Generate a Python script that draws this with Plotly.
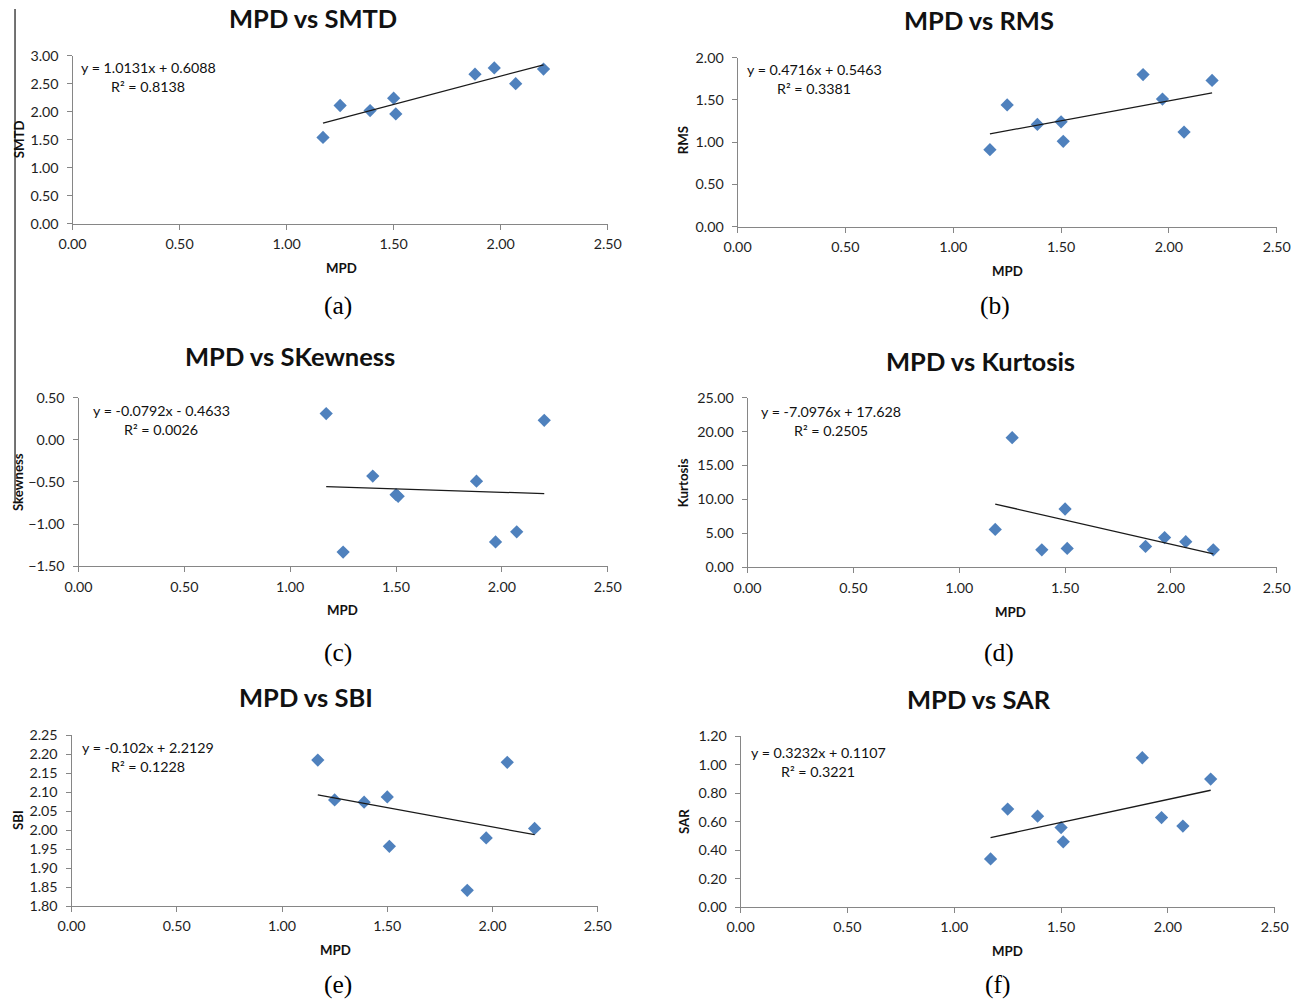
import plotly.graph_objects as go

W, H = 1308, 1004

# ---- data -------------------------------------------------------------
mpd = [1.17, 1.25, 1.39, 1.50, 1.51, 1.88, 1.97, 2.07, 2.20]
smtd = [1.54, 2.11, 2.02, 2.24, 1.96, 2.67, 2.78, 2.50, 2.76]
rms = [0.91, 1.44, 1.21, 1.24, 1.01, 1.80, 1.51, 1.12, 1.73]
skewness = [0.31, -1.33, -0.43, -0.65, -0.67, -0.49, -1.21, -1.09, 0.23]
kurtosis = [5.6, 19.1, 2.6, 8.6, 2.8, 3.1, 4.4, 3.8, 2.6]
sbi = [2.185, 2.080, 2.074, 2.088, 1.958, 1.842, 1.980, 2.179, 2.005]
sar = [0.34, 0.69, 0.64, 0.56, 0.46, 1.05, 0.63, 0.57, 0.90]

titles = ["MPD vs SMTD", "MPD vs RMS", "MPD vs SKewness",
          "MPD vs Kurtosis", "MPD vs SBI", "MPD vs SAR"]
y_titles = ["SMTD", "RMS", "Skewness", "Kurtosis", "SBI", "SAR"]
sub_labels = ["(a)", "(b)", "(c)", "(d)", "(e)", "(f)"]
slopes = [1.0131, 0.4716, -0.0792, -7.0976, -0.102, 0.3232]
intercepts = [0.6088, 0.5463, -0.4633, 17.628, 2.2129, 0.1107]
r_squared = [0.8138, 0.3381, 0.0026, 0.2505, 0.1228, 0.3221]
y_ranges = [(0, 3), (0, 2), (-1.5, 0.5), (0, 25), (1.8, 2.25), (0, 1.2)]
y_dticks = [0.5, 0.5, 0.5, 5, 0.05, 0.2]
x_range = (0, 2.5)
x_dtick = 0.5
series = [smtd, rms, skewness, kurtosis, sbi, sar]

# ---- layout geometry (screen pixels) ------------------------------------
# plot box: left, right, top, bottom
boxes = [
    (71, 607, 56, 224),
    (737, 1277, 58, 227),
    (77, 607, 398, 567),
    (747, 1277, 398, 568),
    (70, 597, 736, 907),
    (740, 1275, 737, 908),
]
title_pos = [(312, 18), (979, 20), (289, 356), (980, 361), (305, 698), (979, 700)]
xtitle_pos = [(340, 268), (1007, 271), (341, 611), (1010, 613), (334, 951), (1007, 952)]
ytitle_pos = [(17, 140), (682, 141), (17, 483), (683, 483), (17, 821), (684, 822)]
eq_pos = [(147, 68), (814, 70), (160, 411), (831, 412), (147, 748), (818, 753)]
sub_pos = [(337, 306), (995, 306), (337, 653), (999, 653), (337, 985), (997, 985)]

# screen -> figure mapping of the viewer (slight zoom-out plus offset)
SX, CX = 0.980, 12.4
SY, CY = 0.9835, 9.3
FS = 1 / SX  # font / marker enlargement to compensate

FONT = "Lato"
AXIS_GREY = "#868686"
MARKER_BLUE = "#4F81BD"


def px(x):
    return max(0.0, (x - CX) / SX) / W


def py(y):
    return 1 - max(0.0, (y - CY) / SY) / H


fig = go.Figure()
annotations = []
layout_axes = {}

for i in range(6):
    n = "" if i == 0 else str(i + 1)
    xa, ya = "x" + n, "y" + n
    left, right, top, bottom = boxes[i]

    tick_font = dict(family=FONT, size=14 * FS, color="#1e1e1e")
    layout_axes["xaxis" + n] = dict(
        domain=[px(left), px(right)], anchor=ya, range=list(x_range),
        dtick=x_dtick, tick0=0, tickformat=".2f",
        showline=True, linecolor=AXIS_GREY, linewidth=1,
        ticks="outside", ticklen=5, tickcolor=AXIS_GREY,
        ticklabelstandoff=2,
        showgrid=False, zeroline=False, tickfont=tick_font,
    )
    layout_axes["yaxis" + n] = dict(
        domain=[py(bottom), py(top)], anchor=xa, range=list(y_ranges[i]),
        dtick=y_dticks[i], tick0=y_ranges[i][0], tickformat=".2f",
        showline=True, linecolor=AXIS_GREY, linewidth=1,
        ticks="outside", ticklen=5, tickcolor=AXIS_GREY,
        ticklabelstandoff=5,
        showgrid=False, zeroline=False, tickfont=tick_font,
    )

    # scatter points
    fig.add_trace(go.Scatter(
        x=mpd, y=series[i], mode="markers", xaxis=xa, yaxis=ya,
        marker=dict(symbol="diamond", size=10 * FS, color=MARKER_BLUE,
                    line=dict(width=0)),
        showlegend=False,
    ))

    # linear trendline from the fitted equation
    x_fit = [min(mpd), max(mpd)]
    y_fit = [slopes[i] * v + intercepts[i] for v in x_fit]
    fig.add_trace(go.Scatter(
        x=x_fit, y=y_fit, mode="lines", xaxis=xa, yaxis=ya,
        line=dict(color="#1a1a1a", width=1.3),
        showlegend=False,
    ))

    # chart title
    tx, ty = title_pos[i]
    annotations.append(dict(
        x=px(tx), y=py(ty), xref="paper", yref="paper", showarrow=False,
        text="<b>%s</b>" % titles[i], xanchor="center", yanchor="middle",
        font=dict(family=FONT, size=25 * FS, color="#111"),
    ))

    # axis titles
    ax_x, ax_y = xtitle_pos[i]
    annotations.append(dict(
        x=px(ax_x), y=py(ax_y), xref="paper", yref="paper", showarrow=False,
        text="<b>MPD</b>", xanchor="center", yanchor="middle",
        font=dict(family=FONT, size=13 * FS, color="#111"),
    ))
    ay_x, ay_y = ytitle_pos[i]
    annotations.append(dict(
        x=px(ay_x), y=py(ay_y), xref="paper", yref="paper", showarrow=False,
        text="<b>%s</b>" % y_titles[i], xanchor="center", yanchor="middle",
        textangle=-90, font=dict(family=FONT, size=13 * FS, color="#111"),
    ))

    # trendline equation and R²
    b = intercepts[i]
    sign = "+" if b >= 0 else "-"
    eq_text = "y = %sx %s %s" % (slopes[i], sign, abs(b))
    ex, ey = eq_pos[i]
    annotations.append(dict(
        x=px(ex), y=py(ey), xref="paper", yref="paper", showarrow=False,
        text=eq_text, xanchor="center", yanchor="middle",
        font=dict(family=FONT, size=14 * FS, color="#111"),
    ))
    annotations.append(dict(
        x=px(ex), y=py(ey + 19), xref="paper", yref="paper", showarrow=False,
        text="R² = %s" % r_squared[i], xanchor="center", yanchor="middle",
        font=dict(family=FONT, size=14 * FS, color="#111"),
    ))

    # sub-figure label
    sx, sy = sub_pos[i]
    annotations.append(dict(
        x=px(sx), y=py(sy), xref="paper", yref="paper", showarrow=False,
        text=sub_labels[i], xanchor="center", yanchor="middle",
        font=dict(family="Liberation Serif", size=25 * FS, color="#000"),
    ))

# thin frame line running down the left edge
shapes = [
    dict(type="line", xref="paper", yref="paper",
         x0=0.0008, x1=0.0008, y0=1, y1=py(503),
         line=dict(color="#444", width=1.5)),
    dict(type="line", xref="paper", yref="paper",
         x0=0.0008, x1=px(17), y0=py(503), y1=py(503),
         line=dict(color="#444", width=1.5)),
]

fig.update_layout(
    width=W, height=H, autosize=False,
    margin=dict(l=0, r=0, t=0, b=0),
    paper_bgcolor="white", plot_bgcolor="white",
    annotations=annotations, shapes=shapes,
    **layout_axes,
)

fig.write_html("out.html")
